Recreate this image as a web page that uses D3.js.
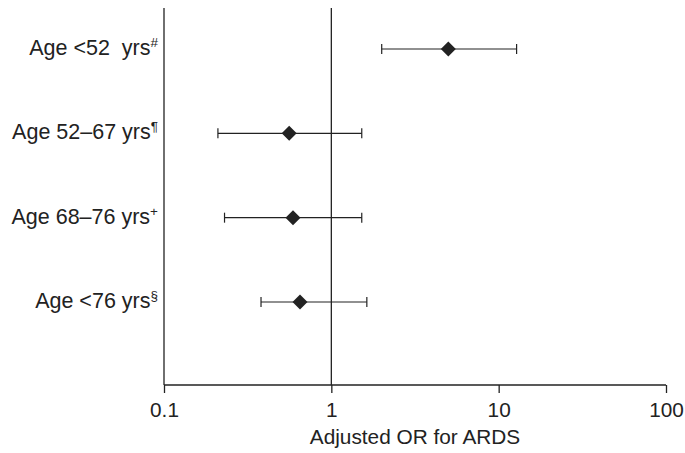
<!DOCTYPE html>
<html>
<head>
<meta charset="utf-8">
<script src="https://cdn.jsdelivr.net/npm/d3@7"></script>
<style>
  html, body { margin: 0; padding: 0; background: #fff; }
  svg { display: block; }
  text { font-family: "Liberation Sans", Arial, sans-serif; fill: #222; }
</style>
</head>
<body>
<svg id="chart" width="685" height="453"></svg>
<script>
// Data
const categories = ["Age <52\u00a0 yrs", "Age 52\u201367 yrs", "Age 68\u201376 yrs", "Age <76 yrs"];
const superscripts = ["#", "\u00b6", "+", "\u00a7"];
const orValues = [5.0, 0.56, 0.59, 0.65];
const ciLower = [2.0, 0.21, 0.23, 0.38];
const ciUpper = [12.8, 1.52, 1.52, 1.63];
const tickValues = [0.1, 1, 10, 100];
const tickLabels = ["0.1", "1", "10", "100"];
const xTitle = "Adjusted OR for ARDS";

(function () {
const svg = d3.select("#chart");
const mLeft = 164, mRight = 666, mTop = 8, mBottom = 385;
const color = "#222";
const fs = 20.8;
const fsLab = 21.5;

const x = d3.scaleLog().domain([0.1, 100]).range([mLeft, mRight]);
const y = d3.scalePoint().domain(categories).range([49, 302]);

// Axis
const xAxis = d3.axisBottom(x).tickValues(tickValues)
  .tickFormat((d, i) => tickLabels[i]).tickSize(8).tickPadding(9);
const gx = svg.append("g").attr("transform", `translate(0,${mBottom})`).call(xAxis);
gx.select(".domain").attr("stroke", color).attr("stroke-width", 1.3)
  .attr("d", `M${mLeft},0H${mRight}`);
gx.selectAll(".tick line").attr("stroke", color).attr("stroke-width", 1.3);
gx.selectAll(".tick text").attr("font-size", fs).attr("fill", color)
  .style("font-family", '"Liberation Sans", Arial, sans-serif');

// Left axis line
svg.append("line").attr("x1", mLeft).attr("x2", mLeft).attr("y1", mTop).attr("y2", mBottom)
  .attr("stroke", color).attr("stroke-width", 1.3);
// Reference line at OR = 1
svg.append("line").attr("x1", x(1)).attr("x2", x(1)).attr("y1", mTop).attr("y2", mBottom)
  .attr("stroke", color).attr("stroke-width", 1.3);

// Title
svg.append("text").attr("x", (mLeft + mRight) / 2).attr("y", 444)
  .attr("text-anchor", "middle").attr("font-size", fs).text(xTitle);

// Category labels
const lab = svg.append("g").selectAll("text").data(categories).join("text")
  .attr("x", 158).attr("y", d => y(d) + 6)
  .attr("text-anchor", "end").attr("font-size", fsLab);
lab.append("tspan").text(d => d);
lab.append("tspan").attr("font-size", 13.5).attr("dy", -8)
  .style("fill", color).style("font-family", '"Liberation Sans", "DejaVu Sans", sans-serif')
  .style("font-variant-emoji", "text")
  .text((d, i) => superscripts[i]);

// Error bars
const rows = categories.map((c, i) => ({c, or: orValues[i], lo: ciLower[i], hi: ciUpper[i]}));
const g = svg.append("g");
g.selectAll("line.ci").data(rows).join("line").attr("class", "ci")
  .attr("x1", d => x(d.lo)).attr("x2", d => x(d.hi))
  .attr("y1", d => y(d.c)).attr("y2", d => y(d.c))
  .attr("stroke", color).attr("stroke-width", 1.2);
g.selectAll("line.capl").data(rows).join("line").attr("class", "capl")
  .attr("x1", d => x(d.lo)).attr("x2", d => x(d.lo))
  .attr("y1", d => y(d.c) - 5).attr("y2", d => y(d.c) + 5)
  .attr("stroke", color).attr("stroke-width", 1.2);
g.selectAll("line.caph").data(rows).join("line").attr("class", "caph")
  .attr("x1", d => x(d.hi)).attr("x2", d => x(d.hi))
  .attr("y1", d => y(d.c) - 5).attr("y2", d => y(d.c) + 5)
  .attr("stroke", color).attr("stroke-width", 1.2);
// Diamonds
const r = 7.5;
g.selectAll("path.pt").data(rows).join("path").attr("class", "pt")
  .attr("d", d => {
    const cx = x(d.or), cy = y(d.c);
    return `M${cx},${cy - r}L${cx + r},${cy}L${cx},${cy + r}L${cx - r},${cy}Z`;
  })
  .attr("fill", color);
})();
</script>
</body>
</html>
